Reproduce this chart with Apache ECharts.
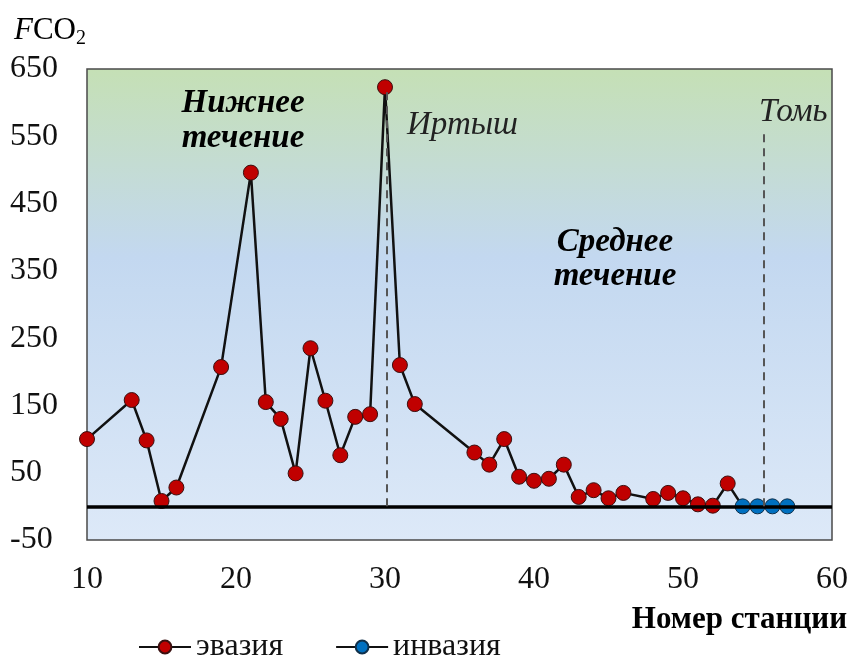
<!DOCTYPE html>
<html><head><meta charset="utf-8">
<script src="https://cdn.jsdelivr.net/npm/echarts@6/dist/echarts.min.js"></script>
<style>html,body{margin:0;padding:0;background:#fff}#c{width:851px;height:655px}</style>
</head><body><div id="c"></div>
<script>
const evasionX = [10,13,14,15,16,19,21,22,23,24,25,26,27,28,29,30,31,32,36,37,38,39,40,41,42,43,44,45,46,48,49,50,51,52,53];
const evasionY = [100,158,98,8,28,207,496,155,130,49,235,157,76,133,137,623,210,152,80,62,100,44,38,41,62,14,24,12,20,11,20,12,3,1,34];
const invasionX = [54,55,56,57];
const invasionY = [0,0,0,0];
const xTicks = [10,20,30,40,50,60];
const yTicks = [-50,50,150,250,350,450,550,650];
const riverLines = [{name:'Иртыш', x:30.1, top:620}, {name:'Томь', x:55.4, top:557}];

const serif = '"Liberation Serif","DejaVu Serif",serif';
const evasionData = evasionX.map((x,i)=>[x,evasionY[i]]);
// connecting segment to first invasion point (symbol hidden)
evasionData.push({value:[invasionX[0],invasionY[0]], symbolSize:0});
const invasionData = invasionX.map((x,i)=>[x,invasionY[i]]);

const chart = echarts.init(document.getElementById('c'), null, {renderer:'canvas'});
chart.setOption({
  animation:false,
  backgroundColor:'#fff',
  grid:{left:87,right:18,top:69,bottom:115,show:true,
    borderColor:'#4a4a4a',borderWidth:1.5,
    backgroundColor:new echarts.graphic.LinearGradient(0,0,0,1,[
      {offset:0,color:'#c5e0b5'},
      {offset:0.4,color:'#c3d8f0'},
      {offset:1,color:'#dde9f8'}])},
  xAxis:{type:'value',min:xTicks[0],max:xTicks[xTicks.length-1],interval:10,
    axisLine:{show:false},axisTick:{show:false},splitLine:{show:false},
    axisLabel:{fontFamily:serif,fontSize:32,color:'#111',margin:24}},
  yAxis:{type:'value',min:yTicks[0],max:yTicks[yTicks.length-1],interval:100,
    axisLine:{show:false},axisTick:{show:false},splitLine:{show:false},
    axisLabel:{fontFamily:serif,fontSize:32,color:'#111',margin:77,align:'left'}},
  legend:{top:626,left:133,itemGap:52,itemWidth:52,itemHeight:16,
    textStyle:{fontFamily:serif,fontSize:32,color:'#111',padding:[0,0,0,0]},
    data:['эвазия','инвазия']},
  graphic:[
    {type:'text',left:14,top:15,style:{text:'{i|F}{n|CO}{s|2}',
      rich:{i:{fontFamily:serif,fontStyle:'italic',fontSize:31,fill:'#000'},
            n:{fontFamily:serif,fontSize:31,fill:'#000'},
            s:{fontFamily:serif,fontSize:20,fill:'#000',padding:[16,0,0,0]}}}},
    {type:'text',right:4,top:604,style:{text:'Номер станции',fontFamily:serif,fontWeight:'bold',fontSize:31,fill:'#000'}},
    {type:'text',x:243,y:121,style:{text:'Нижнее\nтечение',align:'center',verticalAlign:'middle',lineHeight:35,fontFamily:serif,fontStyle:'italic',fontWeight:'bold',fontSize:33,fill:'#000'}},
    {type:'text',x:615,y:259,style:{text:'Среднее\nтечение',align:'center',verticalAlign:'middle',lineHeight:34,fontFamily:serif,fontStyle:'italic',fontWeight:'bold',fontSize:33,fill:'#000'}},
    {type:'text',x:407,y:125,style:{text:'Иртыш',verticalAlign:'middle',fontFamily:serif,fontStyle:'italic',fontSize:33,fill:'#222'}},
    {type:'text',x:759,y:112,style:{text:'Томь',verticalAlign:'middle',fontFamily:serif,fontStyle:'italic',fontSize:33,fill:'#222'}}
  ],
  series:[
    {name:'эвазия',type:'line',data:evasionData,z:3,
      symbol:'circle',symbolSize:15,
      lineStyle:{color:'#111',width:2.5},
      itemStyle:{color:'#c00000',borderColor:'#3a1010',borderWidth:1},
      markLine:{silent:true,symbol:'none',label:{show:false},
        data:[
          [{coord:[xTicks[0],0],lineStyle:{color:'#000',width:3.5,type:'solid'}},{coord:[xTicks[xTicks.length-1],0]}],
          ...riverLines.map(r=>[{coord:[r.x,0],lineStyle:{color:'#555',width:2,type:[8,6]}},{coord:[r.x,r.top]}])
        ]}},
    {name:'инвазия',type:'line',data:invasionData,z:4,
      symbol:'circle',symbolSize:15,
      lineStyle:{color:'#111',width:2.5},
      itemStyle:{color:'#0070c0',borderColor:'#10304a',borderWidth:1}}
  ]
});
</script></body></html>
